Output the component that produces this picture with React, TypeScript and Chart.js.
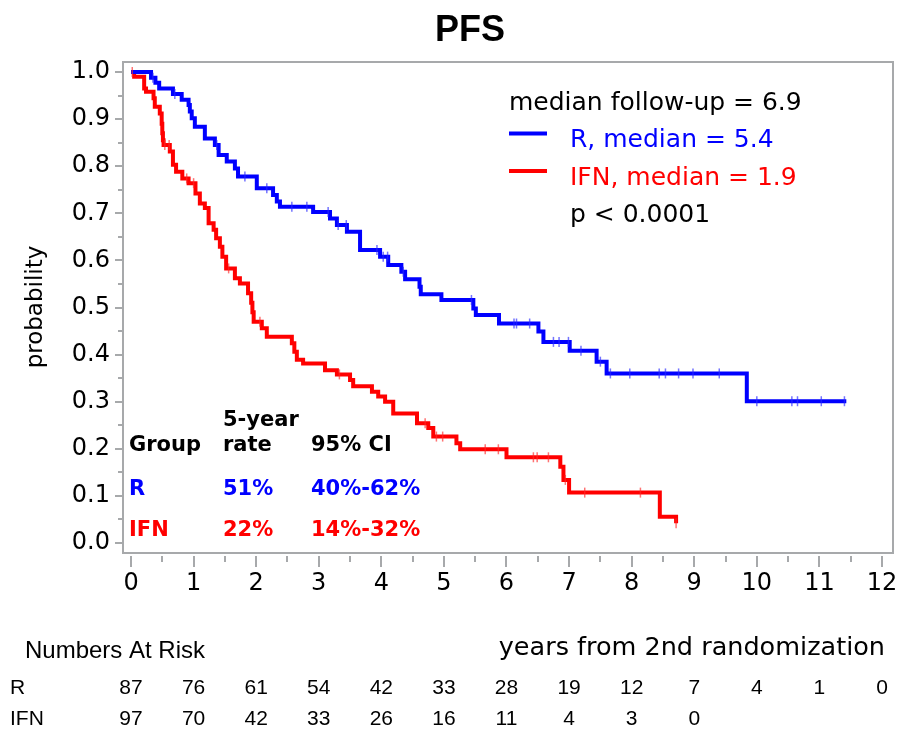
import React, { useEffect, useRef } from "react";
import { Chart, registerables } from "chart.js";

Chart.register(...registerables);

// ---- data ----
const rTimes = [0, 0.32, 0.39, 0.45, 0.67, 0.81, 0.92, 0.94, 0.97, 1.02, 1.18, 1.34, 1.40, 1.53, 1.66, 1.71, 2.01, 2.27, 2.33, 2.38, 2.91, 3.18, 3.29, 3.45, 3.66, 3.98, 4.11, 4.32, 4.38, 4.61, 4.63, 4.96, 5.47, 5.51, 5.88, 6.51, 6.59, 7.01, 7.44, 7.60, 9.84, 11.43];
const rSurv = [1.0, 0.988, 0.977, 0.965, 0.953, 0.941, 0.930, 0.916, 0.902, 0.884, 0.859, 0.845, 0.824, 0.810, 0.795, 0.778, 0.753, 0.739, 0.725, 0.714, 0.703, 0.689, 0.675, 0.661, 0.622, 0.608, 0.590, 0.576, 0.560, 0.544, 0.528, 0.516, 0.498, 0.484, 0.466, 0.449, 0.427, 0.408, 0.385, 0.360, 0.301, 0.301];
const rCensor = [0.35, 0.70, 1.37, 1.82, 2.17, 2.57, 2.81, 3.15, 3.31, 3.44, 3.93, 4.03, 4.10, 4.35, 5.44, 6.12, 6.16, 6.37, 6.75, 6.84, 6.99, 7.19, 7.50, 7.66, 7.97, 8.44, 8.54, 8.75, 8.98, 9.40, 10.0, 10.56, 10.65, 11.03, 11.40];

const ifnTimes = [0, 0.05, 0.21, 0.24, 0.36, 0.38, 0.46, 0.49, 0.50, 0.51, 0.52, 0.62, 0.67, 0.72, 0.82, 0.92, 1.03, 1.10, 1.18, 1.24, 1.32, 1.36, 1.42, 1.46, 1.52, 1.66, 1.74, 1.87, 1.92, 1.94, 1.96, 2.09, 2.17, 2.57, 2.61, 2.65, 2.75, 3.10, 3.29, 3.50, 3.55, 3.85, 3.95, 4.06, 4.19, 4.57, 4.75, 4.83, 5.20, 5.26, 6.00, 6.86, 6.91, 7.00, 8.45, 8.71];
const ifnSurv = [1.0, 0.990, 0.965, 0.958, 0.944, 0.926, 0.912, 0.890, 0.870, 0.855, 0.845, 0.831, 0.803, 0.788, 0.774, 0.764, 0.742, 0.721, 0.711, 0.679, 0.665, 0.647, 0.629, 0.608, 0.583, 0.562, 0.551, 0.530, 0.510, 0.490, 0.470, 0.456, 0.438, 0.424, 0.406, 0.389, 0.381, 0.367, 0.358, 0.346, 0.333, 0.321, 0.311, 0.300, 0.275, 0.254, 0.244, 0.226, 0.212, 0.199, 0.182, 0.162, 0.134, 0.107, 0.056, 0.042];
const ifnCensor = [0.02, 0.54, 0.61, 0.89, 1.00, 1.56, 2.06, 3.33, 4.70, 4.88, 4.98, 5.66, 5.87, 6.43, 6.49, 6.67, 6.94, 7.25, 8.14, 8.71];

const xTicks = [0, 1, 2, 3, 4, 5, 6, 7, 8, 9, 10, 11, 12];
const xMinorTicks = [0.5, 1.5, 2.5, 3.5, 4.5, 5.5, 6.5, 7.5, 8.5, 9.5, 10.5, 11.5];
const yTicks = [0, 0.1, 0.2, 0.3, 0.4, 0.5, 0.6, 0.7, 0.8, 0.9, 1.0];
const yMinorTicks = [0.05, 0.15, 0.25, 0.35, 0.45, 0.55, 0.65, 0.75, 0.85, 0.95];

const riskR = [87, 76, 61, 54, 42, 33, 28, 19, 12, 7, 4, 1, 0];
const riskIFN = [97, 70, 42, 33, 26, 16, 11, 4, 3, 0];

const legendLines = [
  { text: "median follow-up = 6.9", color: "#000000", line: false },
  { text: "R, median = 5.4", color: "#0000ff", line: true },
  { text: "IFN, median = 1.9", color: "#ff0000", line: true },
  { text: "p < 0.0001", color: "#000000", line: false },
];

const rateHeader = ["Group", "rate", "95% CI"];
const rateRows = [
  { cells: ["R", "51%", "40%-62%"], color: "#0000ff" },
  { cells: ["IFN", "22%", "14%-32%"], color: "#ff0000" },
];

const BLUE = "#0000ff";
const RED = "#ff0000";
const FRAME = "#a7a9ab";
const SANS = "'DejaVu Sans', Verdana, sans-serif";
const ARIAL = "'Liberation Sans', Arial, sans-serif";

function stepAt(times: number[], surv: number[], t: number) {
  let s = surv[0];
  for (let i = 0; i < times.length; i++) if (times[i] <= t) s = surv[i];
  return s;
}

const decorPlugin = {
  id: "decor",
  afterDraw(chart: any) {
    const { ctx, chartArea: ca } = chart;
    const x = chart.scales.x;
    const y = chart.scales.y;
    ctx.save();
    // frame
    ctx.strokeStyle = FRAME;
    ctx.lineWidth = 2;
    ctx.strokeRect(ca.left, ca.top, ca.right - ca.left, ca.bottom - ca.top);
    // y ticks
    ctx.lineWidth = 2;
    ctx.beginPath();
    yTicks.forEach((v) => {
      const py = Math.round(y.getPixelForValue(v));
      ctx.moveTo(ca.left - 8, py);
      ctx.lineTo(ca.left, py);
    });
    yMinorTicks.forEach((v) => {
      const py = Math.round(y.getPixelForValue(v));
      ctx.moveTo(ca.left - 5, py);
      ctx.lineTo(ca.left, py);
    });
    // x ticks
    xTicks.forEach((v) => {
      const px = Math.round(x.getPixelForValue(v));
      ctx.moveTo(px, ca.bottom + 3);
      ctx.lineTo(px, ca.bottom + 14);
    });
    xMinorTicks.forEach((v) => {
      const px = Math.round(x.getPixelForValue(v));
      ctx.moveTo(px, ca.bottom + 3);
      ctx.lineTo(px, ca.bottom + 9);
    });
    ctx.stroke();

    ctx.fillStyle = "#000";
    ctx.textBaseline = "middle";
    // title
    ctx.font = `bold 36px ${ARIAL}`;
    ctx.textAlign = "center";
    ctx.fillText("PFS", 470, 31);

    // y axis title
    ctx.save();
    ctx.translate(36, 307);
    ctx.rotate(-Math.PI / 2);
    ctx.font = `23px ${SANS}`;
    ctx.fillText("probability", 0, 0);
    ctx.restore();

    // legend
    ctx.textAlign = "left";
    ctx.font = `25px ${SANS}`;
    legendLines.forEach((l, i) => {
      const ty = 103 + i * 37.5;
      ctx.fillStyle = l.color;
      ctx.fillText(l.text, i === 0 ? 509 : 570, ty);
      if (l.line) {
        ctx.strokeStyle = l.color;
        ctx.lineWidth = 4;
        ctx.beginPath();
        ctx.moveTo(509, ty - 7);
        ctx.lineTo(547, ty - 7);
        ctx.stroke();
      }
    });

    // 5-year rate table
    ctx.font = `bold 21px ${SANS}`;
    ctx.fillStyle = "#000";
    const colX = [129, 223, 311];
    ctx.fillText("5-year", colX[1], 421);
    rateHeader.forEach((h, i) => ctx.fillText(h, colX[i], 446));
    rateRows.forEach((r, ri) => {
      ctx.fillStyle = r.color;
      r.cells.forEach((c, ci) => ctx.fillText(c, colX[ci], 490 + ri * 41));
    });

    // x axis title
    ctx.fillStyle = "#000";
    ctx.textAlign = "right";
    ctx.font = `25.5px ${SANS}`;
    ctx.fillText("years from 2nd randomization", 885, 648);

    // numbers at risk
    ctx.textAlign = "left";
    ctx.font = `24px ${ARIAL}`;
    ctx.fillText("Numbers At Risk", 25, 651);
    ctx.font = `21px ${ARIAL}`;
    ctx.fillText("R", 10, 688);
    ctx.fillText("IFN", 10, 719);
    ctx.textAlign = "center";
    riskR.forEach((n, i) => ctx.fillText(String(n), x.getPixelForValue(xTicks[i]), 688));
    riskIFN.forEach((n, i) => ctx.fillText(String(n), x.getPixelForValue(xTicks[i]), 719));
    ctx.restore();
  },
};

export default function App() {
  const ref = useRef<HTMLCanvasElement | null>(null);
  useEffect(() => {
    if (!ref.current) return;
    const rLine = rTimes.map((t, i) => ({ x: t, y: rSurv[i] }));
    const iLine = ifnTimes.map((t, i) => ({ x: t, y: ifnSurv[i] }));
    const rC = rCensor.map((t) => ({ x: t, y: stepAt(rTimes, rSurv, t) }));
    const iC = ifnCensor.map((t) => ({ x: t, y: stepAt(ifnTimes, ifnSurv, t) }));
    const chart = new Chart(ref.current, {
      type: "line",
      data: {
        datasets: [
          { data: rC, showLine: false, pointStyle: "line", rotation: 90, pointRadius: 5, pointBorderWidth: 1.5, pointBorderColor: "rgba(40,40,255,0.65)", pointBackgroundColor: "rgba(40,40,255,0.65)", borderColor: "rgba(40,40,255,0.65)" } as any,
          { data: iC, showLine: false, pointStyle: "line", rotation: 90, pointRadius: 5, pointBorderWidth: 1.5, pointBorderColor: "rgba(255,40,40,0.65)", pointBackgroundColor: "rgba(255,40,40,0.65)", borderColor: "rgba(255,40,40,0.65)" } as any,
          { data: rLine, stepped: true, borderColor: BLUE, borderWidth: 4, pointRadius: 0, fill: false } as any,
          { data: iLine, stepped: true, borderColor: RED, borderWidth: 4, pointRadius: 0, fill: false } as any,
        ],
      },
      options: {
        animation: false,
        responsive: false,
        events: [],
        layout: { padding: { left: 0, top: 62, right: 11, bottom: 0 } },
        plugins: { legend: { display: false }, tooltip: { enabled: false }, title: { display: false } },
        scales: {
          x: {
            type: "linear",
            min: -0.128,
            max: 12.176,
            grid: { display: false, drawTicks: false },
            border: { display: false },
            afterBuildTicks: (s: any) => { s.ticks = xTicks.map((v) => ({ value: v })); },
            afterFit: (s: any) => { s.height = 177; s.paddingLeft = 0; s.paddingRight = 0; },
            ticks: { padding: 16, maxRotation: 0, autoSkip: false, color: "#000", font: { family: SANS, size: 24 }, callback: (v: any) => String(v) },
          },
          y: {
            type: "linear",
            min: -0.0212,
            max: 1.0212,
            grid: { display: false, drawTicks: false },
            border: { display: false },
            afterBuildTicks: (s: any) => { s.ticks = yTicks.map((v) => ({ value: v })); },
            afterFit: (s: any) => { s.width = 123; s.paddingTop = 0; s.paddingBottom = 0; },
            ticks: { padding: 13, autoSkip: false, color: "#000", font: { family: SANS, size: 24 }, callback: (v: any) => Number(v).toFixed(1) },
          },
        },
      },
      plugins: [decorPlugin],
    });
    return () => chart.destroy();
  }, []);
  return (
    <div style={{ position: "absolute", left: 0, top: 0, width: 904, height: 730, background: "#fff" }}>
      <canvas ref={ref} width={904} height={730} style={{ width: 904, height: 730 }} />
    </div>
  );
}
